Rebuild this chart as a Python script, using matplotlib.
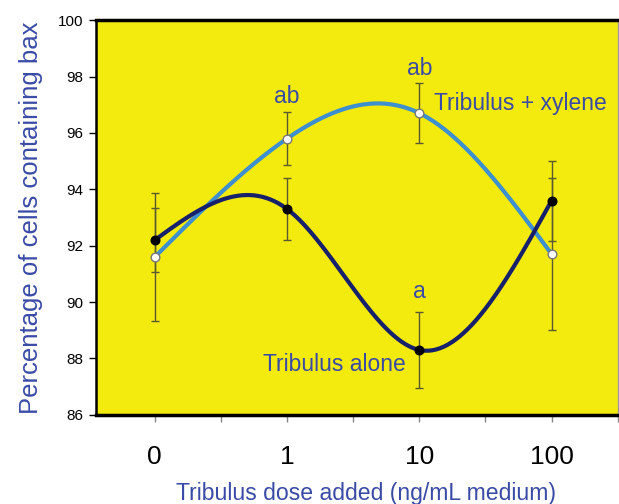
import numpy as np
import matplotlib
matplotlib.use("Agg")
import matplotlib.pyplot as plt

plt.rcParams['font.family'] = ['Liberation Sans', 'DejaVu Sans']

doses = ["0", "1", "10", "100"]
alone = [92.2, 93.3, 88.3, 93.6]
alone_err = [1.13, 1.1, 1.35, 1.42]
xylene = [91.6, 95.8, 96.7, 91.7]
xylene_err = [2.27, 0.95, 1.07, 2.69]
letters = ["", "ab", "ab", ""]
letters_alone = ["", "", "a", ""]

txt_col = "#3a4ba6"
navy = "#17206a"
blue = "#3d8fd0"
ebar_col = "#5a5a30"

fig = plt.figure(figsize=(6.19, 5.04), dpi=100)
ax = fig.add_axes([0.155, 0.177, 0.843, 0.783])
ax.set_facecolor("#f3ea0e")

x = np.arange(len(doses), dtype=float)


def natural_spline(xs, ys, n=300):
    xs = np.asarray(xs, float)
    ys = np.asarray(ys, float)
    k = len(xs)
    h = np.diff(xs)
    A = np.zeros((k, k))
    b = np.zeros(k)
    A[0, 0] = 1
    A[-1, -1] = 1
    for i in range(1, k - 1):
        A[i, i - 1] = h[i - 1]
        A[i, i] = 2 * (h[i - 1] + h[i])
        A[i, i + 1] = h[i]
        b[i] = 6 * ((ys[i + 1] - ys[i]) / h[i] - (ys[i] - ys[i - 1]) / h[i - 1])
    M = np.linalg.solve(A, b)
    xx = np.linspace(xs[0], xs[-1], n)
    idx = np.clip(np.searchsorted(xs, xx) - 1, 0, k - 2)
    x0, x1 = xs[idx], xs[idx + 1]
    hh = x1 - x0
    a = (x1 - xx) / hh
    c = (xx - x0) / hh
    yy = (a * ys[idx] + c * ys[idx + 1]
          + ((a ** 3 - a) * M[idx] + (c ** 3 - c) * M[idx + 1]) * hh ** 2 / 6)
    return xx, yy


# error bars
ax.errorbar(x, alone, yerr=alone_err, fmt='none', ecolor=ebar_col, elinewidth=1.0,
            capsize=3, capthick=1.0, zorder=2)
ax.errorbar(x, xylene, yerr=xylene_err, fmt='none', ecolor=ebar_col, elinewidth=1.0,
            capsize=3, capthick=1.0, zorder=2)

xs_b, ys_b = natural_spline(x, xylene)
ax.plot(xs_b, ys_b, color=blue, lw=3.0, zorder=3, solid_capstyle='round')
xs_n, ys_n = natural_spline(x, alone)
ax.plot(xs_n, ys_n, color=navy, lw=3.0, zorder=4, solid_capstyle='round')

ax.plot(x, alone, 'o', ms=6.2, mfc='black', mec='black', zorder=5)
ax.plot(x, xylene, 'o', ms=6.2, mfc='white', mec='#777777', mew=1.0, zorder=5)

# significance letters
for xi, (lab, v, e) in enumerate(zip(letters, xylene, xylene_err)):
    if lab:
        ax.text(xi, v + e + 0.12, lab, color=txt_col, fontsize=16.5, ha='center', va='bottom')
for xi, (lab, v, e) in enumerate(zip(letters_alone, alone, alone_err)):
    if lab:
        ax.text(xi, v + e + 0.3, lab, color=txt_col, fontsize=16.5, ha='center', va='bottom')

ax.text(2.11, 97.06, "Tribulus + xylene", color=txt_col, fontsize=16.5, ha='left', va='center')
ax.text(0.815, 87.8, "Tribulus alone", color=txt_col, fontsize=16.5, ha='left', va='center')

ax.set_ylim(86, 100)
ax.set_yticks(np.arange(86, 101, 2))
ax.set_xlim(-0.445, 3.5)
ax.set_xticks(x)
ax.set_xticklabels(doses, fontsize=19)
ax.set_xticks(np.arange(-0.0, 3.51, 0.5), minor=True)
ax.tick_params(axis='x', which='both', length=5, color='#888888', width=1, pad=17)
ax.tick_params(axis='y', labelsize=11, length=5, width=1, pad=4)

ax.spines['top'].set_linewidth(2.5)
ax.spines['bottom'].set_linewidth(2.5)
ax.spines['left'].set_linewidth(1.8)
ax.spines['right'].set_linewidth(1.0)
ax.spines['right'].set_color('#999999')

ax.set_ylabel("Percentage of cells containing bax", color=txt_col, fontsize=18.5, labelpad=11)
ax.set_xlabel("Tribulus dose added (ng/mL medium)", color=txt_col, fontsize=16.6, labelpad=9)
ax.xaxis.label.set_x(0.518)

fig.savefig("out.png", dpi=100)
